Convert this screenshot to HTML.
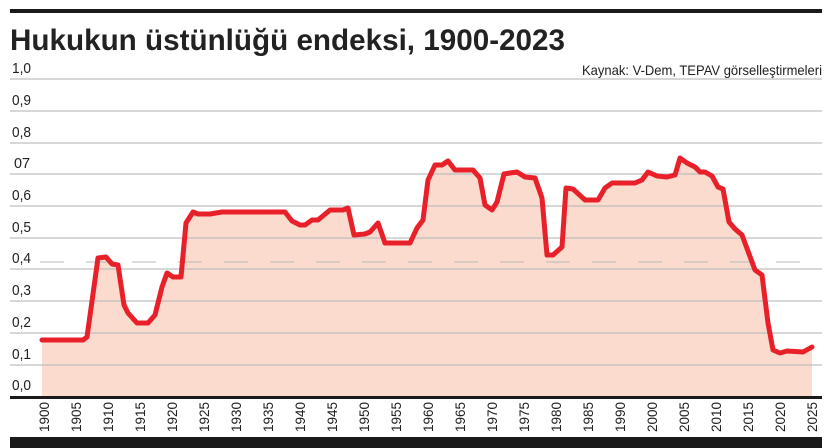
<!DOCTYPE html>
<html><head><meta charset="utf-8"><style>
html,body{margin:0;padding:0;background:#fff;}
svg{display:block;}
text{font-family:"Liberation Sans Narrow","Liberation Sans",sans-serif;fill:#222;}
</style></head><body>
<svg width="832" height="448" viewBox="0 0 832 448" xmlns="http://www.w3.org/2000/svg">
<rect x="10" y="9" width="812" height="4" fill="#1a1a1a"/>
<text x="10" y="50" font-weight="bold" font-size="30" style="font-family:'Liberation Sans Narrow','Liberation Sans',sans-serif" textLength="555" lengthAdjust="spacingAndGlyphs">Hukukun üstünlüğü endeksi, 1900-2023</text>
<text x="822" y="75" font-size="14" text-anchor="end" textLength="240" lengthAdjust="spacingAndGlyphs">Kaynak: V-Dem, TEPAV görselleştirmeleri</text>
<polygon fill="#fadbce" points="42,397 42,340 83,340 87,337 98,258 106,257 112,264 118,265 124,305 128,313 137,323 148,323 155,315 162,287 167,273 173,277 181,277 186,223 193,212 198,214 210,214 222,212 285,212 292,221 300,225 305,225 312,220 318,220 330,210 343,210 348,208 354,235 365,234 370,232 378,223 385,243 410,243 417,228 423,220 428,180 435,165 442,165 448,161 455,170 473,170 480,178 485,205 492,210 497,202 504,174 510,173 517,172 525,177 535,178 542,198 547,255 553,255 562,247 566,188 573,189 585,200 598,200 605,188 612,183 635,183 642,180 648,172 657,176 667,177 675,175 680,158 687,163 695,167 700,172 705,172 712,176 718,187 723,189 729,222 735,229 742,235 755,270 762,275 768,323 773,350 780,353 787,351 803,352 812,347 812,397"/>
<g stroke="#b8b8b8" stroke-width="1.5" stroke-opacity="0.75">
<line x1="10" y1="79" x2="822" y2="79"/>
<line x1="10" y1="111" x2="822" y2="111"/>
<line x1="10" y1="143" x2="822" y2="143"/>
<line x1="10" y1="174" x2="822" y2="174"/>
<line x1="10" y1="206" x2="822" y2="206"/>
<line x1="10" y1="238" x2="822" y2="238"/>
<line x1="10" y1="269" x2="822" y2="269"/>
<line x1="10" y1="301" x2="822" y2="301"/>
<line x1="10" y1="333" x2="822" y2="333"/>
<line x1="10" y1="365" x2="822" y2="365"/>
</g>
<line x1="40" y1="262" x2="822" y2="262" stroke="#b8b8b8" stroke-width="1" stroke-dasharray="24,22"/>
<g font-size="15">
<text x="12" y="73" textLength="19" lengthAdjust="spacingAndGlyphs">1,0</text>
<text x="12" y="105" textLength="19" lengthAdjust="spacingAndGlyphs">0,9</text>
<text x="12" y="137" textLength="19" lengthAdjust="spacingAndGlyphs">0,8</text>
<text x="14" y="168" textLength="16" lengthAdjust="spacingAndGlyphs">07</text>
<text x="12" y="200" textLength="19" lengthAdjust="spacingAndGlyphs">0,6</text>
<text x="12" y="232" textLength="19" lengthAdjust="spacingAndGlyphs">0,5</text>
<text x="12" y="263" textLength="19" lengthAdjust="spacingAndGlyphs">0,4</text>
<text x="12" y="295" textLength="19" lengthAdjust="spacingAndGlyphs">0,3</text>
<text x="12" y="327" textLength="19" lengthAdjust="spacingAndGlyphs">0,2</text>
<text x="12" y="359" textLength="19" lengthAdjust="spacingAndGlyphs">0,1</text>
<text x="12" y="390" textLength="19" lengthAdjust="spacingAndGlyphs">0,0</text>
</g>
<polyline fill="none" stroke="#e8202a" stroke-width="5" stroke-linejoin="round" stroke-linecap="round" points="42,340 83,340 87,337 98,258 106,257 112,264 118,265 124,305 128,313 137,323 148,323 155,315 162,287 167,273 173,277 181,277 186,223 193,212 198,214 210,214 222,212 285,212 292,221 300,225 305,225 312,220 318,220 330,210 343,210 348,208 354,235 365,234 370,232 378,223 385,243 410,243 417,228 423,220 428,180 435,165 442,165 448,161 455,170 473,170 480,178 485,205 492,210 497,202 504,174 510,173 517,172 525,177 535,178 542,198 547,255 553,255 562,247 566,188 573,189 585,200 598,200 605,188 612,183 635,183 642,180 648,172 657,176 667,177 675,175 680,158 687,163 695,167 700,172 705,172 712,176 718,187 723,189 729,222 735,229 742,235 755,270 762,275 768,323 773,350 780,353 787,351 803,352 812,347"/>
<rect x="10" y="396" width="812" height="3" fill="#1a1a1a"/>
<g font-size="14">
<text transform="translate(49,432) rotate(-90)" textLength="30" lengthAdjust="spacingAndGlyphs">1900</text>
<text transform="translate(81,432) rotate(-90)" textLength="30" lengthAdjust="spacingAndGlyphs">1905</text>
<text transform="translate(113,432) rotate(-90)" textLength="30" lengthAdjust="spacingAndGlyphs">1910</text>
<text transform="translate(145,432) rotate(-90)" textLength="30" lengthAdjust="spacingAndGlyphs">1915</text>
<text transform="translate(177,432) rotate(-90)" textLength="30" lengthAdjust="spacingAndGlyphs">1920</text>
<text transform="translate(209,432) rotate(-90)" textLength="30" lengthAdjust="spacingAndGlyphs">1925</text>
<text transform="translate(241,432) rotate(-90)" textLength="30" lengthAdjust="spacingAndGlyphs">1930</text>
<text transform="translate(273,432) rotate(-90)" textLength="30" lengthAdjust="spacingAndGlyphs">1935</text>
<text transform="translate(305,432) rotate(-90)" textLength="30" lengthAdjust="spacingAndGlyphs">1940</text>
<text transform="translate(337,432) rotate(-90)" textLength="30" lengthAdjust="spacingAndGlyphs">1945</text>
<text transform="translate(369,432) rotate(-90)" textLength="30" lengthAdjust="spacingAndGlyphs">1950</text>
<text transform="translate(401,432) rotate(-90)" textLength="30" lengthAdjust="spacingAndGlyphs">1955</text>
<text transform="translate(433,432) rotate(-90)" textLength="30" lengthAdjust="spacingAndGlyphs">1960</text>
<text transform="translate(465,432) rotate(-90)" textLength="30" lengthAdjust="spacingAndGlyphs">1965</text>
<text transform="translate(497,432) rotate(-90)" textLength="30" lengthAdjust="spacingAndGlyphs">1970</text>
<text transform="translate(529,432) rotate(-90)" textLength="30" lengthAdjust="spacingAndGlyphs">1975</text>
<text transform="translate(561,432) rotate(-90)" textLength="30" lengthAdjust="spacingAndGlyphs">1980</text>
<text transform="translate(593,432) rotate(-90)" textLength="30" lengthAdjust="spacingAndGlyphs">1985</text>
<text transform="translate(625,432) rotate(-90)" textLength="30" lengthAdjust="spacingAndGlyphs">1990</text>
<text transform="translate(657,432) rotate(-90)" textLength="30" lengthAdjust="spacingAndGlyphs">2000</text>
<text transform="translate(689,432) rotate(-90)" textLength="30" lengthAdjust="spacingAndGlyphs">2005</text>
<text transform="translate(721,432) rotate(-90)" textLength="30" lengthAdjust="spacingAndGlyphs">2010</text>
<text transform="translate(753,432) rotate(-90)" textLength="30" lengthAdjust="spacingAndGlyphs">2015</text>
<text transform="translate(785,432) rotate(-90)" textLength="30" lengthAdjust="spacingAndGlyphs">2020</text>
<text transform="translate(817,432) rotate(-90)" textLength="30" lengthAdjust="spacingAndGlyphs">2025</text>
</g>
<rect x="10" y="437" width="812" height="11" fill="#1a1a1a"/>
</svg>
</body></html>
